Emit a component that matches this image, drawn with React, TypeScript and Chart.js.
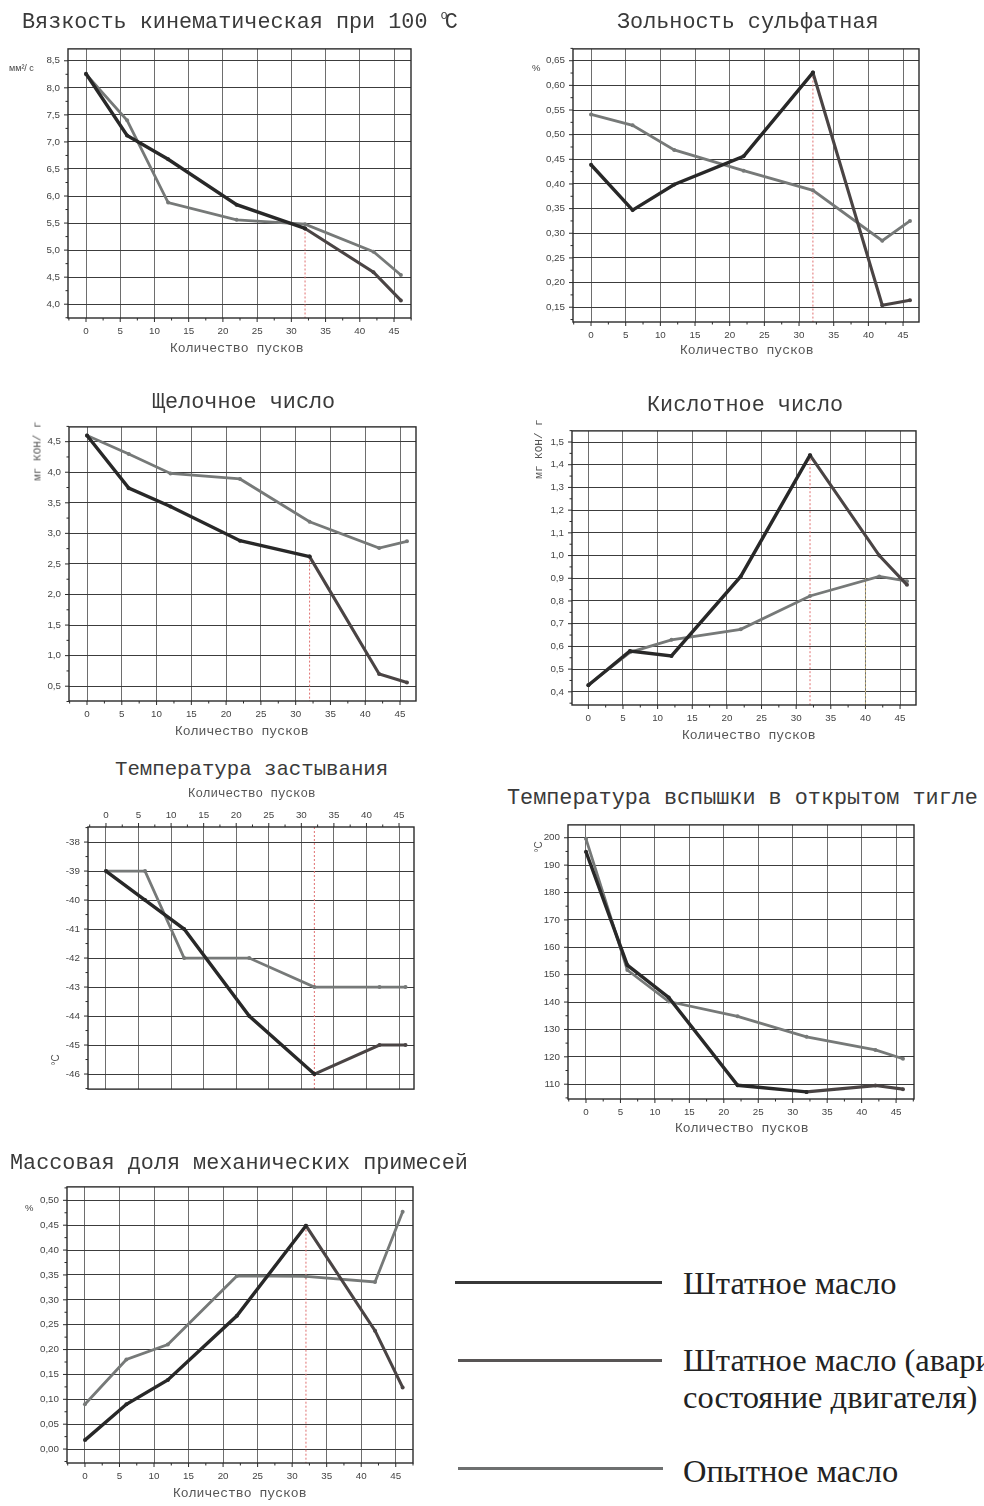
import React, { useEffect, useRef } from "react";
import { Chart, registerables } from "chart.js";
Chart.register(...registerables);

// ---------- shared data ----------
const RUNS_STD = [0, 6, 12, 22, 32];
const RUNS_EMG = [32, 42, 46];
const RUNS_EXP = [0, 6, 12, 22, 32, 42, 46];
const X_TICKS = [0, 5, 10, 15, 20, 25, 30, 35, 40, 45];
const X_TITLE = "Количество пусков";
const NAME_STD = "Штатное масло";
const NAME_EMG_1 = "Штатное масло (аварийное";
const NAME_EMG_2 = "состояние двигателя)";
const NAME_EXP = "Опытное масло";

// 1. Вязкость кинематическая при 100 °С
const VISC_TICKS = [4.0, 4.5, 5.0, 5.5, 6.0, 6.5, 7.0, 7.5, 8.0, 8.5];
const VISC_STD = [8.26, 7.12, 6.68, 5.84, 5.4];
const VISC_EMG = [5.4, 4.59, 4.07];
const VISC_EXP = [8.25, 7.4, 5.88, 5.56, 5.48, 4.97, 4.54];

// 2. Зольность сульфатная
const ASH_TICKS = [0.15, 0.2, 0.25, 0.3, 0.35, 0.4, 0.45, 0.5, 0.55, 0.6, 0.65];
const ASH_STD = [0.439, 0.347, 0.399, 0.456, 0.626];
const ASH_EMG = [0.626, 0.154, 0.164];
const ASH_EXP = [0.541, 0.519, 0.469, 0.427, 0.387, 0.285, 0.325];

// 3. Щелочное число
const TBN_TICKS = [0.5, 1.0, 1.5, 2.0, 2.5, 3.0, 3.5, 4.0, 4.5];
const TBN_STD = [4.6, 3.74, 3.44, 2.88, 2.62];
const TBN_EMG = [2.62, 0.7, 0.56];
const TBN_EXP = [4.6, 4.3, 3.98, 3.89, 3.19, 2.76, 2.87];

// 4. Кислотное число
const TAN_TICKS = [0.4, 0.5, 0.6, 0.7, 0.8, 0.9, 1.0, 1.1, 1.2, 1.3, 1.4, 1.5];
const TAN_STD = [0.429, 0.58, 0.558, 0.908, 1.442];
const TAN_EMG = [1.442, 1.0, 0.871];
const TAN_EXP = [0.43, 0.574, 0.629, 0.675, 0.822, 0.908, 0.887];

// 5. Температура застывания
const POUR_TICKS = [-46, -45, -44, -43, -42, -41, -40, -39, -38];
const POUR_STD = [-39, -40, -41, -44, -46];
const POUR_EMG = [-46, -45, -45];
const POUR_EXP = [-39, -39, -42, -42, -43, -43, -43];

// 6. Температура вспышки в открытом тигле
const FLASH_TICKS = [110, 120, 130, 140, 150, 160, 170, 180, 190, 200];
const FLASH_STD = [194.9, 153.5, 141.7, 109.6, 107.2];
const FLASH_EMG = [107.2, 109.5, 108.2];
const FLASH_EXP = [199.6, 151.7, 140.2, 134.8, 127.3, 122.5, 119.3];

// 7. Массовая доля механических примесей
const MECH_TICKS = [0, 0.05, 0.1, 0.15, 0.2, 0.25, 0.3, 0.35, 0.4, 0.45, 0.5];
const MECH_STD = [0.018, 0.09, 0.139, 0.268, 0.449];
const MECH_EMG = [0.449, 0.238, 0.124];
const MECH_EXP = [0.09, 0.18, 0.21, 0.348, 0.347, 0.336, 0.477];

// ---------- styles ----------
const C_STD = "#282828";
const C_EMG = "#4a4444";
const C_EXP = "#767978";
const C_MARK = "#e07070";
const C_MARK2 = "#c9b57a";
const MONO = "'Liberation Mono', 'DejaVu Sans Mono', monospace";
const SANS = "'Liberation Sans', Arial, sans-serif";
const SERIF = "'Liberation Serif', 'Times New Roman', serif";

type ChartDef = {
  plot: [number, number, number, number]; // L T R B
  xMin: number; xMax: number; yMin: number; yMax: number;
  yTicks: number[]; dec: number;
  std: number[]; emg: number[]; exp: number[];
  marks: { x: number; y1: number; y2: number; color: string }[];
  xTop?: boolean;
};

const CHARTS: ChartDef[] = [
  { plot: [68, 45, 411, 318], xMin: -2.63, xMax: 47.48, yMin: 3.745, yMax: 8.72, yTicks: VISC_TICKS, dec: 1,
    std: VISC_STD, emg: VISC_EMG, exp: VISC_EXP, marks: [{ x: 32, y1: VISC_STD[4], y2: 3.745, color: C_MARK }] },
  { plot: [573, 45, 919, 322], xMin: -2.6, xMax: 47.3, yMin: 0.12, yMax: 0.674, yTicks: ASH_TICKS, dec: 2,
    std: ASH_STD, emg: ASH_EMG, exp: ASH_EXP, marks: [{ x: 32, y1: ASH_STD[4], y2: 0.12, color: C_MARK }] },
  { plot: [69, 423, 416, 701], xMin: -2.59, xMax: 47.3, yMin: 0.258, yMax: 4.742, yTicks: TBN_TICKS, dec: 1,
    std: TBN_STD, emg: TBN_EMG, exp: TBN_EXP, marks: [{ x: 32, y1: TBN_STD[4], y2: 0.258, color: C_MARK }] },
  { plot: [572, 427, 916, 705], xMin: -2.36, xMax: 47.3, yMin: 0.342, yMax: 1.549, yTicks: TAN_TICKS, dec: 1,
    std: TAN_STD, emg: TAN_EMG, exp: TAN_EXP,
    marks: [{ x: 32, y1: TAN_STD[4], y2: 0.342, color: C_MARK }, { x: 40, y1: 0.9, y2: 0.342, color: C_MARK2 }] },
  { plot: [88, 827, 414, 1093], xMin: -2.76, xMax: 47.3, yMin: -46.52, yMax: -37.48, yTicks: POUR_TICKS, dec: 0,
    std: POUR_STD, emg: POUR_EMG, exp: POUR_EXP, marks: [{ x: 32, y1: -37.48, y2: -46.52, color: C_MARK }], xTop: true },
  { plot: [568, 821, 914, 1099], xMin: -2.61, xMax: 47.6, yMin: 104.6, yMax: 204.7, yTicks: FLASH_TICKS, dec: 0,
    std: FLASH_STD, emg: FLASH_EMG, exp: FLASH_EXP, marks: [] },
  { plot: [67, 1183, 413, 1463], xMin: -2.6, xMax: 47.5, yMin: -0.028, yMax: 0.527, yTicks: MECH_TICKS, dec: 2,
    std: MECH_STD, emg: MECH_EMG, exp: MECH_EXP, marks: [{ x: 32, y1: MECH_STD[4], y2: -0.028, color: C_MARK }] },
];

const YW = 60;
const PT = 10;
const PR = 6;
const XH = 28;

const fmt = (v: number, dec: number) => v.toFixed(dec).replace(".", ",");

const framePlugin = {
  id: "frameTicks",
  afterDatasetsDraw(chart: any) {
    const { ctx, chartArea: a, scales } = chart;
    const xs = scales.x;
    const ys = scales.y;
    const top = xs.options.position === "top";
    ctx.save();
    ctx.strokeStyle = "#2a2a2a";
    ctx.lineWidth = 1.4;
    ctx.strokeRect(a.left, a.top, a.right - a.left, a.bottom - a.top);
    ctx.lineWidth = 1;
    ctx.beginPath();
    const xt = xs.ticks.map((t: any) => t.value);
    const xstep = xt[1] - xt[0];
    for (let i = -2; i <= (xt.length + 1) * 2; i++) {
      const v = xt[0] + (i * xstep) / 2;
      const px = xs.getPixelForValue(v);
      if (px < a.left - 0.5 || px > a.right + 0.5) continue;
      const len = i % 2 === 0 ? 4 : 2.5;
      const y0 = top ? a.top : a.bottom;
      ctx.moveTo(px, y0);
      ctx.lineTo(px, top ? y0 - len : y0 + len);
    }
    const yt = ys.ticks.map((t: any) => t.value);
    const ystep = yt[1] - yt[0];
    for (let i = -2; i <= (yt.length + 1) * 2; i++) {
      const v = yt[0] + (i * ystep) / 2;
      const py = ys.getPixelForValue(v);
      if (py < a.top - 0.5 || py > a.bottom + 0.5) continue;
      const len = i % 2 === 0 ? 4 : 2.5;
      ctx.moveTo(a.left, py);
      ctx.lineTo(a.left - len, py);
    }
    ctx.stroke();
    ctx.restore();
  },
};

function LineChart({ def }: { def: ChartDef }) {
  const ref = useRef<HTMLCanvasElement>(null);
  const [L, T, R, B] = def.plot;
  const w = R - L + YW + PR;
  const h = B - T + PT + XH;
  const left = L - YW;
  const top = def.xTop ? T - XH : T - PT;
  useEffect(() => {
    const pts = (xs: number[], ys: number[]) => xs.map((x, i) => ({ x, y: ys[i] }));
    const lineDs = (label: string, data: any[], color: string, width: number) => ({
      label, data, borderColor: color, backgroundColor: color, borderWidth: width,
      pointRadius: 2, pointBorderWidth: 0, tension: 0,
    });
    const datasets: any[] = [
      lineDs(NAME_STD, pts(RUNS_STD, def.std), C_STD, 3.4),
      lineDs(NAME_EMG_1 + " " + NAME_EMG_2, pts(RUNS_EMG, def.emg), C_EMG, 3.1),
      lineDs(NAME_EXP, pts(RUNS_EXP, def.exp), C_EXP, 2.8),
      ...def.marks.map((m) => ({
        label: "mark", data: [{ x: m.x, y: m.y1 }, { x: m.x, y: m.y2 }],
        borderColor: m.color, borderWidth: 1, borderDash: [2, 2], pointRadius: 0,
      })),
    ];
    const tickFont = { family: SANS, size: 9.8 };
    const chart = new Chart(ref.current as HTMLCanvasElement, {
      type: "line",
      data: { datasets },
      options: {
        responsive: false,
        animation: false,
        devicePixelRatio: 1,
        layout: { padding: { left: 0, right: PR, top: def.xTop ? 0 : PT, bottom: def.xTop ? PT : 0 } },
        plugins: { legend: { display: false }, tooltip: { enabled: false }, title: { display: false } },
        scales: {
          x: {
            type: "linear",
            position: def.xTop ? "top" : "bottom",
            min: def.xMin,
            max: def.xMax,
            afterBuildTicks: (s: any) => { s.ticks = X_TICKS.map((v) => ({ value: v })); },
            afterFit: (s: any) => { s.height = XH; },
            grid: { color: "#6e6e6e", lineWidth: 1, drawTicks: false },
            border: { display: false },
            ticks: {
              autoSkip: false, maxRotation: 0, minRotation: 0,
              padding: def.xTop ? 6.3 : 7, font: tickFont, color: "#444",
              callback: (v: any) => String(v),
            },
          },
          y: {
            type: "linear",
            min: def.yMin,
            max: def.yMax,
            afterBuildTicks: (s: any) => { s.ticks = def.yTicks.map((v) => ({ value: v })); },
            afterFit: (s: any) => { s.width = YW; },
            grid: { color: "#3c3c3c", lineWidth: 1, drawTicks: false },
            border: { display: false },
            ticks: {
              autoSkip: false, padding: 8, font: tickFont, color: "#444",
              callback: (v: any) => fmt(Number(v), def.dec),
            },
          },
        },
      },
      plugins: [framePlugin],
    } as any);
    return () => chart.destroy();
  }, []);
  return (
    <canvas
      ref={ref}
      width={w}
      height={h}
      style={{ position: "absolute", left, top, width: w, height: h }}
    />
  );
}

function Txt(props: {
  x: number; y: number; size: number; family: string; children: any;
  color?: string; rotate?: boolean; lh?: number;
}) {
  const { x, y, size, family, children, color, rotate, lh } = props;
  const style: any = {
    position: "absolute", left: x, top: y, fontSize: size, fontFamily: family,
    lineHeight: (lh ?? size) + "px", whiteSpace: "nowrap", color: color ?? "#3a3a3a",
  };
  if (rotate) {
    style.transform = "translate(-50%, -50%) rotate(-90deg)";
  }
  return <div style={style}>{children}</div>;
}

const TITLE = 21.8;

export default function App() {
  return (
    <div style={{ position: "absolute", left: 0, top: 0, width: 984, height: 1506, overflow: "hidden", background: "#fff" }}>
      {CHARTS.map((d, i) => <LineChart key={i} def={d} />)}

      {/* chart titles */}
      <Txt x={22} y={12} size={TITLE} family={MONO}>
        Вязкость кинематическая при 100 <span style={{ fontSize: 12, position: "relative", top: -9, marginRight: -3 }}>o</span>С
      </Txt>
      <Txt x={617} y={12} size={TITLE} family={MONO}>Зольность сульфатная</Txt>
      <Txt x={152} y={392} size={TITLE} family={MONO}>Щелочное число</Txt>
      <Txt x={647} y={395} size={TITLE} family={MONO}>Кислотное число</Txt>
      <Txt x={115} y={760} size={20.7} family={MONO}>Температура застывания</Txt>
      <Txt x={507} y={788} size={TITLE} family={MONO}>Температура вспышки в открытом тигле</Txt>
      <Txt x={10} y={1153} size={TITLE} family={MONO}>Массовая доля механических примесей</Txt>

      {/* x-axis titles */}
      <Txt x={170} y={342} size={13.1} family={MONO} color="#555">{X_TITLE}</Txt>
      <Txt x={680} y={344} size={13.1} family={MONO} color="#555">{X_TITLE}</Txt>
      <Txt x={175} y={725} size={13.1} family={MONO} color="#555">{X_TITLE}</Txt>
      <Txt x={682} y={729} size={13.1} family={MONO} color="#555">{X_TITLE}</Txt>
      <Txt x={188} y={788} size={12.5} family={MONO} color="#555">{X_TITLE}</Txt>
      <Txt x={675} y={1122} size={13.1} family={MONO} color="#555">{X_TITLE}</Txt>
      <Txt x={173} y={1487} size={13.1} family={MONO} color="#555">{X_TITLE}</Txt>

      {/* y units */}
      <Txt x={9} y={64} size={9} family={SANS} color="#444">мм²/ с</Txt>
      <Txt x={532} y={63} size={9.5} family={SANS} color="#444">%</Txt>
      <Txt x={38} y={451} size={11} family={MONO} color="#555" rotate>мг КОН/ г</Txt>
      <Txt x={539} y={449} size={11} family={MONO} color="#555" rotate>мг КОН/ г</Txt>
      <Txt x={56} y={1060} size={10} family={SANS} color="#555" rotate>°С</Txt>
      <Txt x={539} y={847} size={10} family={SANS} color="#555" rotate>°С</Txt>
      <Txt x={25} y={1203} size={9.5} family={SANS} color="#444">%</Txt>

      {/* legend */}
      <div style={{ position: "absolute", left: 455, top: 1281, width: 207, height: 3, background: "#383838" }} />
      <div style={{ position: "absolute", left: 458, top: 1359, width: 204, height: 3, background: "#585555" }} />
      <div style={{ position: "absolute", left: 458, top: 1467, width: 205, height: 3, background: "#6e7070" }} />
      <Txt x={683} y={1266} size={32.5} family={SERIF} color="#222" lh={35}>{NAME_STD}</Txt>
      <Txt x={683} y={1342} size={32.5} family={SERIF} color="#222" lh={37}>
        {NAME_EMG_1}<br />{NAME_EMG_2}
      </Txt>
      <Txt x={683} y={1454} size={32.5} family={SERIF} color="#222" lh={35}>{NAME_EXP}</Txt>
    </div>
  );
}
